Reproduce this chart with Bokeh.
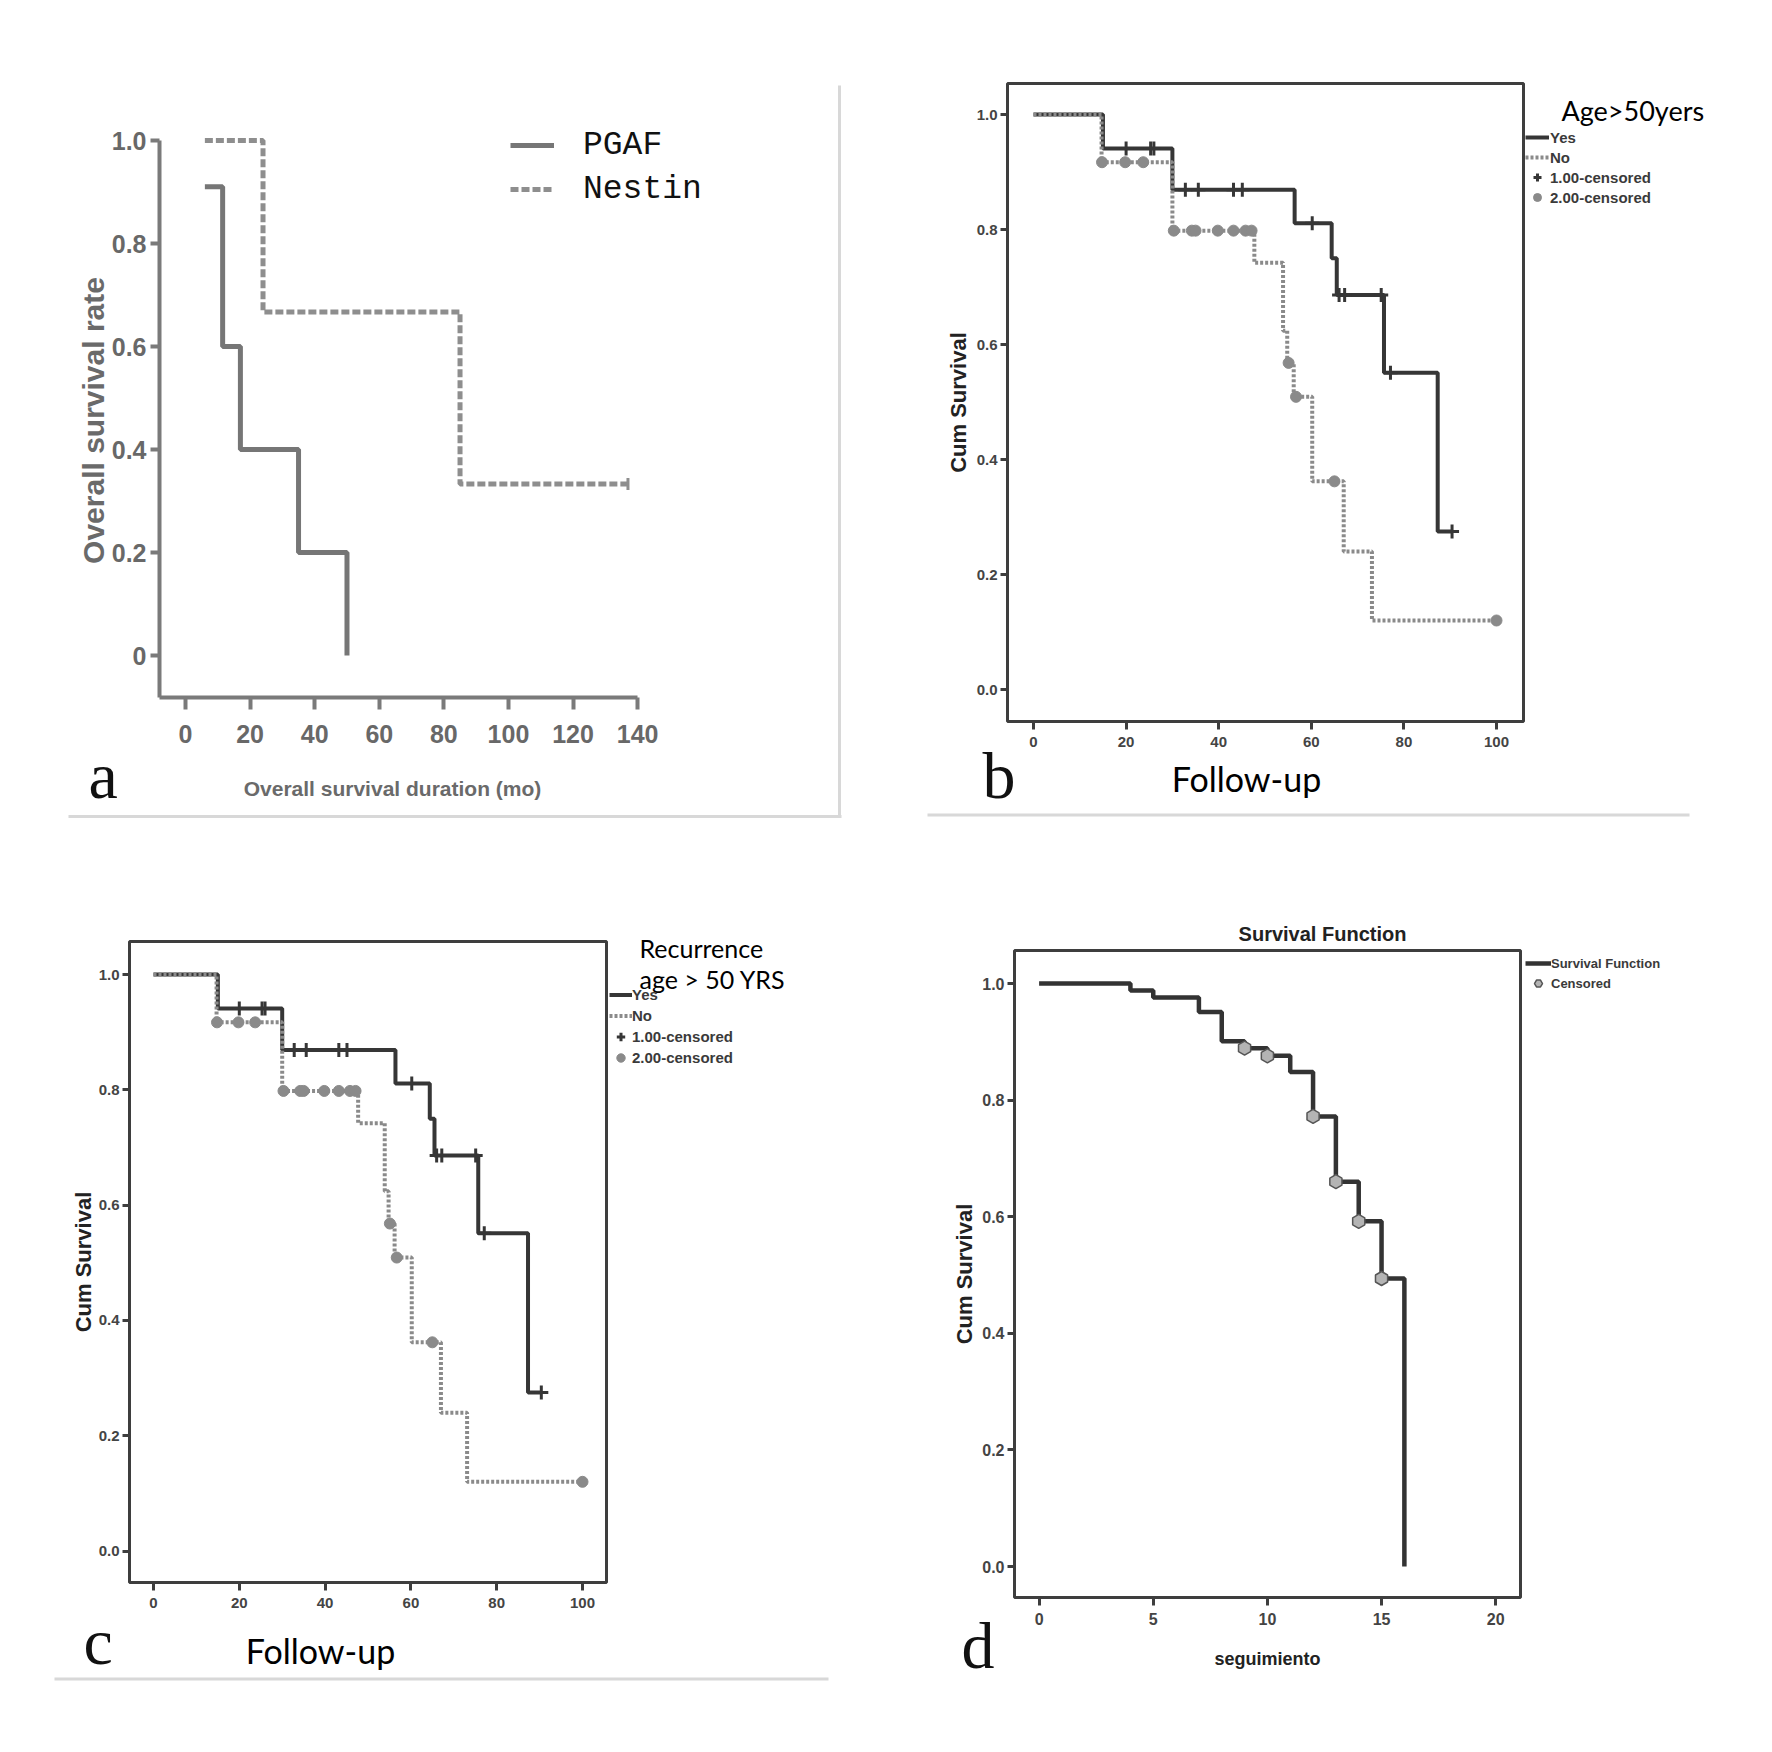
import math
from bokeh.plotting import figure
from bokeh.models import Range1d, FixedTicker, Label, Legend, LegendItem, BoxAnnotation
from bokeh.layouts import column, row
from bokeh.embed import file_html
from bokeh.resources import INLINE

# ---------------- data ----------------
# panel a
A_PGAF_TIME = [6, 11.5, 17, 35, 50]
A_PGAF_SURV = [0.91, 0.60, 0.40, 0.20, 0.0]
A_NESTIN_TIME = [6, 24, 85, 137]
A_NESTIN_SURV = [1.0, 0.667, 0.333, 0.333]
A_NESTIN_CENS_TIME = [137]
A_NESTIN_CENS_SURV = [0.333]
A_X_TICKS = [0, 20, 40, 60, 80, 100, 120, 140]
A_Y_TICKS = [0, 0.2, 0.4, 0.6, 0.8, 1.0]
A_Y_LABELS = ["0", "0.2", "0.4", "0.6", "0.8", "1.0"]
A_LEGEND = ["PGAF", "Nestin"]

# panels b and c (same curves)
YES_TIME = [0, 15, 30, 56.4, 64.4, 65.5, 75.7, 87.3, 90.4]
YES_SURV = [1.0, 0.941, 0.869, 0.811, 0.750, 0.686, 0.551, 0.275, 0.275]
YES_CENS_TIME = [20.0, 25.3, 26.0, 32.8, 35.6, 43.2, 45.1, 60.2, 66.0, 67.2, 75.1, 77.1, 90.4]
YES_CENS_SURV = [0.941, 0.941, 0.941, 0.869, 0.869, 0.869, 0.869, 0.811, 0.686, 0.686, 0.686, 0.551, 0.275]
NO_TIME = [0, 14.7, 30, 47.7, 53.9, 54.8, 56.2, 60.2, 67.0, 73.1, 100]
NO_SURV = [1.0, 0.917, 0.798, 0.742, 0.624, 0.568, 0.509, 0.362, 0.240, 0.120, 0.120]
NO_CENS_TIME = [14.8, 19.8, 23.7, 30.3, 34.2, 35.0, 39.8, 43.2, 45.8, 47.1, 55.1, 56.7, 65.0, 100]
NO_CENS_SURV = [0.917, 0.917, 0.917, 0.798, 0.798, 0.798, 0.798, 0.798, 0.798, 0.798, 0.568, 0.509, 0.362, 0.120]
BC_X_TICKS = [0, 20, 40, 60, 80, 100]
BC_Y_TICKS = [0, 0.2, 0.4, 0.6, 0.8, 1.0]
BC_Y_LABELS = ["0.0", "0.2", "0.4", "0.6", "0.8", "1.0"]
BC_LEGEND = ["Yes", "No", "1.00-censored", "2.00-censored"]

# panel d
D_TIME = [0, 4, 5, 7, 8, 9, 10, 11, 12, 13, 14, 15, 16]
D_SURV = [1.0, 0.988, 0.976, 0.951, 0.901, 0.889, 0.876, 0.848, 0.772, 0.660, 0.592, 0.494, 0.0]
D_CENS_TIME = [9, 10, 12, 13, 14, 15]
D_CENS_SURV = [0.889, 0.876, 0.772, 0.660, 0.592, 0.494]
D_X_TICKS = [0, 5, 10, 15, 20]
D_Y_TICKS = [0, 0.2, 0.4, 0.6, 0.8, 1.0]
D_Y_LABELS = ["0.0", "0.2", "0.4", "0.6", "0.8", "1.0"]
D_LEGEND = ["Survival Function", "Censored"]

SANS = "Liberation Sans"
CALIBRI_LIKE = "Lato"
SERIF = "Liberation Serif"
MONO = "Liberation Mono"

PX, PY = 0, 0   # page position of the layout's top-left corner


# ---------------- helpers ----------------
def fig_at(g, xmap, ymap):
    """Figure whose frame fills the whole figure; xmap/ymap = (page px of value 0, px per unit)."""
    ox, oy, w, h = g["ox"], g["oy"], g["w"], g["h"]
    x0, xs = xmap
    y0, ys = ymap
    p = figure(width=w, height=h,
               x_range=Range1d((ox - x0) / xs, (ox + w - x0) / xs),
               y_range=Range1d((y0 - (oy + h)) / ys, (y0 - oy) / ys),
               min_border_left=0, min_border_right=0, min_border_top=0, min_border_bottom=0,
               output_backend="svg", toolbar_location=None)
    p.title.visible = False
    p.xgrid.visible = False
    p.ygrid.visible = False
    p.background_fill_color = "white"
    p.border_fill_color = "white"
    p.outline_line_color = None
    return p


def sx(g, x):
    return x - g["ox"]


def sy(g, y):
    return g["oy"] + g["h"] - y


def put_text(p, g, x, y, text, size, font, style="normal", color="#000000",
             align="left", baseline="middle", angle=0.0):
    p.add_layout(Label(x=sx(g, x), y=sy(g, y), x_units="screen", y_units="screen", text=text,
                       text_font=font, text_font_size=f"{size}px", text_font_style=style,
                       text_color=color, text_align=align, text_baseline=baseline, angle=angle))


def put_letter(p, g, x, y, text):
    put_text(p, g, x, y, text, 66, SERIF, baseline="alphabetic", color="#111111")


def put_box(p, g, x1, y1, x2, y2, fill="#d8d8d8", line=None, lw=1):
    kw = dict(left=sx(g, x1), right=sx(g, x2), top=sy(g, y1), bottom=sy(g, y2),
              left_units="screen", right_units="screen", top_units="screen", bottom_units="screen")
    if fill is None:
        kw.update(fill_alpha=0.0)
    else:
        kw.update(fill_color=fill, fill_alpha=1.0)
    if line is None:
        kw.update(line_color=None)
    else:
        kw.update(line_color=line, line_alpha=1.0, line_width=lw)
    p.add_layout(BoxAnnotation(**kw))


def style_axis(ax, ticks, loc, tick_out, lw, color, size, label_color, standoff, labels=None):
    ax.fixed_location = loc
    ax.ticker = FixedTicker(ticks=ticks, minor_ticks=[])
    ax.major_tick_out = tick_out
    ax.major_tick_in = 0
    ax.minor_tick_line_color = None
    ax.major_tick_line_width = lw
    ax.major_tick_line_color = color
    ax.major_label_text_font = SANS
    ax.major_label_text_font_size = f"{size}px"
    ax.major_label_text_font_style = "bold"
    ax.major_label_text_color = label_color
    ax.major_label_standoff = standoff
    if labels is not None:
        ax.major_label_overrides = dict(zip(ticks, labels))


def make_legend(g, items, left, bottom, row_h, glyph_w, standoff, font, size, style, color):
    return Legend(items=items, location=(sx(g, left), sy(g, bottom)), orientation="vertical",
                  padding=0, margin=0, spacing=0, glyph_width=glyph_w, glyph_height=row_h,
                  label_height=row_h, label_standoff=standoff, border_line_color=None,
                  background_fill_alpha=0, label_text_font=font, label_text_font_size=f"{size}px",
                  label_text_font_style=style, label_text_color=color)


# ---------------- panel a ----------------
GA = dict(ox=PX, oy=PY, w=885, h=858)
AX, AY = (185, 3.2297), (655, 515)
pa = fig_at(GA, AX, AY)
ra1 = pa.step(A_PGAF_TIME, A_PGAF_SURV, mode="after", line_color="#767676", line_width=5)
ra2 = pa.step(A_NESTIN_TIME, A_NESTIN_SURV, mode="after", line_color="#8e8e8e", line_width=5,
              line_dash="8 3")
pa.scatter(A_NESTIN_CENS_TIME, A_NESTIN_CENS_SURV, marker="dash", angle=math.pi / 2, size=12,
           line_color="#8e8e8e", line_width=3)
a_xloc = (AY[0] - 697) / AY[1]
a_yloc = (159 - AX[0]) / AX[1]
style_axis(pa.xaxis[0], A_X_TICKS, a_xloc, 12, 4, "#7a7a7a", 25, "#686868", 15)
style_axis(pa.yaxis[0], A_Y_TICKS, a_yloc, 9, 4, "#7a7a7a", 25, "#686868", 4, A_Y_LABELS)
for ax in (pa.xaxis[0], pa.yaxis[0]):
    ax.axis_line_width = 4
    ax.axis_line_color = "#7a7a7a"
pa.xaxis[0].bounds = (a_yloc, 140)
pa.yaxis[0].bounds = (a_xloc, 1.0)
pa.add_layout(make_legend(GA, [LegendItem(label=A_LEGEND[0], renderers=[ra1]),
                               LegendItem(label=A_LEGEND[1], renderers=[ra2])],
                          510, 211, 44, 44, 29, MONO, 33, "normal", "#111111"))
put_text(pa, GA, 93, 420, "Overall survival rate", 30, SANS, "bold", "#6a6a6a",
         align="center", angle=math.pi / 2)
put_text(pa, GA, 392, 788, "Overall survival duration (mo)", 21, SANS, "bold", "#6a6a6a",
         align="center")
put_letter(pa, GA, 88, 775, "a")
put_box(pa, GA, 68, 814.5, 841, 817.5)
put_box(pa, GA, 837.5, 85, 840.5, 817.5)


# ---------------- panels b and c ----------------
def km_panel(g, xmap, ymap, box, leg_left, leg_bottom, row_h, glyph_w, standoff, ylab_x):
    p = fig_at(g, xmap, ymap)
    l, t, r, b = box
    r_yes = p.step(YES_TIME, YES_SURV, mode="after", line_color="#363636", line_width=4)
    r_no = p.step(NO_TIME, NO_SURV, mode="after", line_color="#8a8a8a", line_width=4,
                  line_dash="3 2")
    r_nc = p.scatter(NO_CENS_TIME, NO_CENS_SURV, marker="circle", size=11,
                     fill_color="#8a8a8a", line_color="#8a8a8a")
    r_yc = p.scatter(YES_CENS_TIME, YES_CENS_SURV, marker="cross", size=14,
                     line_color="#363636", line_width=3)
    xloc = (ymap[0] - b) / ymap[1]
    yloc = (l - xmap[0]) / xmap[1]
    style_axis(p.xaxis[0], BC_X_TICKS, xloc, 8, 3, "#3e3e3e", 15, "#444444", 7)
    style_axis(p.yaxis[0], BC_Y_TICKS, yloc, 7, 3, "#3e3e3e", 15, "#444444", 3, BC_Y_LABELS)
    for ax in (p.xaxis[0], p.yaxis[0]):
        ax.axis_line_color = None
    put_box(p, g, l, t, r, b, fill=None, line="#3e3e3e", lw=3)
    items = [LegendItem(label=BC_LEGEND[0], renderers=[r_yes]),
             LegendItem(label=BC_LEGEND[1], renderers=[r_no]),
             LegendItem(label=BC_LEGEND[2], renderers=[r_yc]),
             LegendItem(label=BC_LEGEND[3], renderers=[r_nc])]
    p.add_layout(make_legend(g, items, leg_left, leg_bottom, row_h, glyph_w, standoff,
                             SANS, 15, "bold", "#3a3a3a"))
    put_text(p, g, ylab_x, (t + b) / 2, "Cum Survival", 22, SANS,
             "bold", "#222222", align="center", angle=math.pi / 2)
    return p


GB = dict(ox=PX + 885, oy=PY, w=885, h=858)
BOX_B = (1007, 83, 1523, 721)
pb = km_panel(GB, (1033, 4.63), (689, 575), BOX_B, 1525, 207, 20, 24, 1, 958)
put_text(pb, GB, 1246, 778, "Follow-up", 34, CALIBRI_LIKE, align="center")
put_text(pb, GB, 1561, 110, "Age>50yers", 27, CALIBRI_LIKE)
put_letter(pb, GB, 982, 775, "b")
put_box(pb, GB, 927, 813, 1689, 816)

GC = dict(ox=PX, oy=PY + 858, w=885, h=892)
BOX_C = (129, 941, 606, 1582)
pc = km_panel(GC, (153, 4.29), (1550.5, 576.5), BOX_C, 609, 1067.5, 21, 23, 0, 82.5)
put_text(pc, GC, 320, 1650, "Follow-up", 34, CALIBRI_LIKE, align="center")
put_text(pc, GC, 639, 947, "Recurrence", 25, CALIBRI_LIKE)
put_text(pc, GC, 639, 978, "age > 50 YRS", 25, CALIBRI_LIKE)
put_letter(pc, GC, 83, 1641, "c")
put_box(pc, GC, 54, 1677, 828, 1680)

# ---------------- panel d ----------------
GD = dict(ox=PX + 885, oy=PY + 858, w=885, h=892)
BOX_D = (1014, 950, 1520, 1597)
DX, DY = (1038.6, 22.83), (1566, 583)
pd_ = fig_at(GD, DX, DY)
rd1 = pd_.step(D_TIME, D_SURV, mode="after", line_color="#333333", line_width=4.5)
rd2 = pd_.scatter(D_CENS_TIME, D_CENS_SURV, marker="hex", size=14, angle=math.pi / 2,
                  fill_color="#b4b4b4", line_color="#555555", line_width=1.5)
d_xloc = (DY[0] - BOX_D[3]) / DY[1]
d_yloc = (BOX_D[0] - DX[0]) / DX[1]
style_axis(pd_.xaxis[0], D_X_TICKS, d_xloc, 8, 3, "#3e3e3e", 16, "#444444", 7)
style_axis(pd_.yaxis[0], D_Y_TICKS, d_yloc, 7, 3, "#3e3e3e", 16, "#444444", 3, D_Y_LABELS)
for ax in (pd_.xaxis[0], pd_.yaxis[0]):
    ax.axis_line_color = None
put_box(pd_, GD, *BOX_D, fill=None, line="#3e3e3e", lw=3)
pd_.add_layout(make_legend(GD, [LegendItem(label=D_LEGEND[0], renderers=[rd1]),
                                LegendItem(label=D_LEGEND[1], renderers=[rd2])],
                           1525, 993, 20, 26, 0, SANS, 13, "bold", "#3a3a3a"))
put_text(pd_, GD, 964, 1273.5, "Cum Survival", 22, SANS, "bold", "#222222",
         align="center", angle=math.pi / 2)
put_text(pd_, GD, 1267, 1658, "seguimiento", 18, SANS, "bold", "#222222", align="center")
put_text(pd_, GD, 1322, 933, "Survival Function", 20, SANS, "bold", "#222222", align="center")
put_letter(pd_, GD, 961, 1645, "d")

layout = column(row(pa, pb), row(pc, pd_))
open("out.html", "w").write(file_html(layout, INLINE))
